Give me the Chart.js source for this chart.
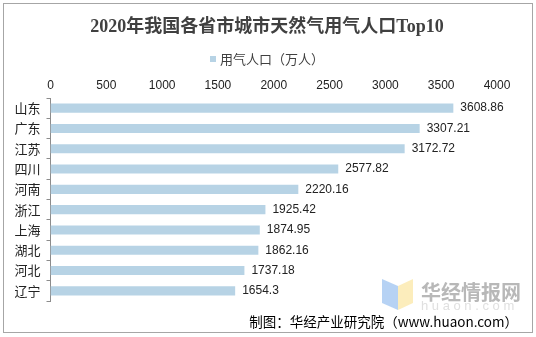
<!DOCTYPE html>
<html>
<head>
<meta charset="utf-8">
<script src="https://cdn.jsdelivr.net/npm/chart.js@4/dist/chart.umd.min.js"></script>
<style>
  html, body { margin: 0; padding: 0; background: #fff; }
  canvas { display: block; }
</style>
</head>
<body>
<canvas id="gasChart" width="536" height="337"></canvas>
<script>
const provinces = ['山东','广东','江苏','四川','河南','浙江','上海','湖北','河北','辽宁'];
const gasUsers = [3608.86, 3307.21, 3172.72, 2577.82, 2220.16, 1925.42, 1874.95, 1862.16, 1737.18, 1654.3];
const valueLabels = ['3608.86','3307.21','3172.72','2577.82','2220.16','1925.42','1874.95','1862.16','1737.18','1654.3'];
const xTicks = [0, 500, 1000, 1500, 2000, 2500, 3000, 3500, 4000];

const titleText = '2020年我国各省市城市天然气用气人口Top10';
const legendText = '用气人口（万人）';
const sourceText = '制图：华经产业研究院（www.huaon.com）';
const barColor = '#B7D3E5';

// title, legend, frame, watermark, source line
const decor = {
  id: 'decor',
  beforeDraw(chart) {
    const c = chart.ctx;
    c.save();
    c.fillStyle = '#fff';
    c.fillRect(0, 0, 536, 337);
    c.strokeStyle = '#a6a6a6';
    c.lineWidth = 1;
    c.strokeRect(3.5, 3.5, 529, 329);

    // watermark logo
    c.globalAlpha = 0.75;
    c.fillStyle = '#9EC3F0';
    c.beginPath();
    c.moveTo(382, 279); c.lineTo(398, 286); c.lineTo(398, 310); c.lineTo(382, 303);
    c.closePath(); c.fill();
    c.fillStyle = '#FBE7A6';
    c.beginPath();
    c.moveTo(398, 286); c.lineTo(413, 279); c.lineTo(413, 303); c.lineTo(398, 310);
    c.closePath(); c.fill();
    c.globalAlpha = 1;
    c.fillStyle = '#b8b8b8';
    c.font = 'bold 20px "Noto Sans CJK SC"';
    c.textBaseline = 'middle';
    c.textAlign = 'left';
    c.fillText('华经情报网', 421, 292);
    c.fillStyle = '#e0e0e0';
    c.font = '13px "Liberation Sans"';
    c.fillText('h u a o n . c o m', 421, 306);
    c.restore();
  },
  afterDraw(chart) {
    const c = chart.ctx;
    c.save();
    c.textBaseline = 'middle';
    c.fillStyle = '#404040';
    c.font = 'bold 18px "Liberation Serif", "Noto Sans CJK SC"';
    c.textAlign = 'center';
    c.fillText(titleText, 267, 27);

    c.font = '13px "Noto Sans CJK SC"';
    const w = c.measureText(legendText).width;
    const lx = 267 - (w + 10) / 2;
    c.fillStyle = barColor;
    c.fillRect(lx, 56, 6, 6);
    c.fillStyle = '#404040';
    c.textAlign = 'left';
    c.fillText(legendText, lx + 10, 59);

    c.fillStyle = '#000';
    c.font = '13.5px "Noto Sans CJK SC"';
    c.textAlign = 'right';
    c.fillText(sourceText, 518, 322);
    c.restore();
  }
};

const barLabels = {
  id: 'barLabels',
  afterDatasetsDraw(chart) {
    const c = chart.ctx;
    c.save();
    c.font = '12px "Liberation Sans"';
    c.fillStyle = '#222';
    c.textBaseline = 'middle';
    c.textAlign = 'left';
    chart.getDatasetMeta(0).data.forEach((bar, i) => {
      c.fillText(valueLabels[i], bar.x + 7, bar.y);
    });
    c.restore();
  }
};

new Chart(document.getElementById('gasChart'), {
  type: 'bar',
  data: {
    labels: provinces,
    datasets: [{
      label: legendText,
      data: gasUsers,
      backgroundColor: barColor,
      barPercentage: 0.45,
      categoryPercentage: 1
    }]
  },
  options: {
    indexAxis: 'y',
    responsive: false,
    animation: false,
    layout: { padding: { top: 72, left: 3, right: 39, bottom: 36 } },
    plugins: {
      legend: { display: false },
      title: { display: false },
      tooltip: { enabled: false }
    },
    scales: {
      x: {
        position: 'top',
        min: 0,
        max: 4000,
        afterBuildTicks: s => { s.ticks = xTicks.map(v => ({ value: v })); },
        afterFit: s => { s.height = 26; },
        grid: { display: false, drawTicks: false, tickLength: 0 },
        border: { display: false },
        ticks: {
          color: '#222',
          font: { family: 'Liberation Sans', size: 12 },
          padding: 5,
          maxRotation: 0,
          callback: v => String(v)
        }
      },
      y: {
        afterFit: s => { s.width = 47.5; },
        grid: { offset: true, drawOnChartArea: false, tickLength: 4, color: '#8c8c8c' },
        border: { display: true, color: '#8c8c8c' },
        ticks: { color: '#222', font: { family: 'Noto Sans CJK SC', size: 13 }, padding: 6 }
      }
    }
  },
  plugins: [decor, barLabels]
});
</script>
</body>
</html>
